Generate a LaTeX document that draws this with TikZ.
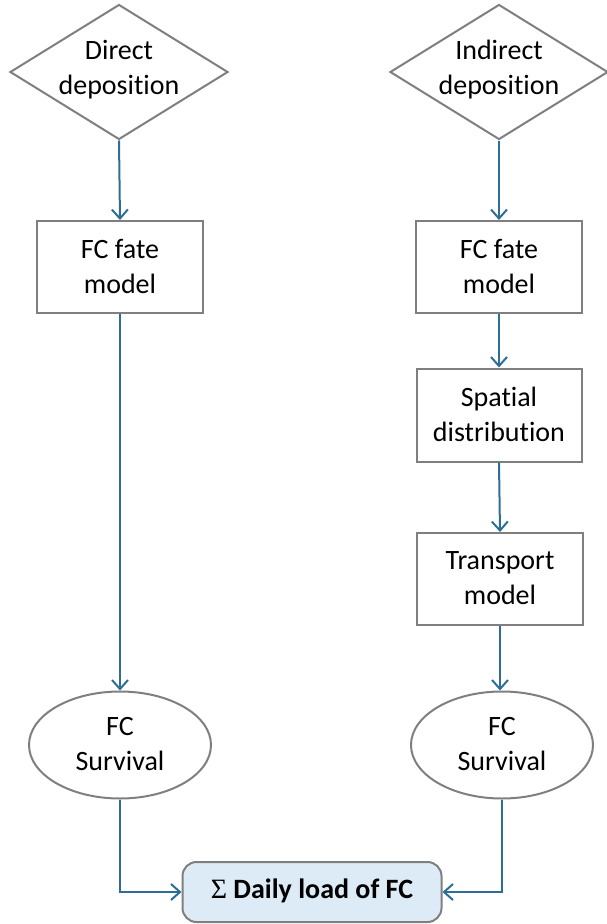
\documentclass[tikz,border=0pt]{standalone}
\usepackage{fontspec}
\setmainfont{Carlito}[Ligatures=NoCommon]
\newfontfamily\sigmafont{Liberation Serif}
\usetikzlibrary{shapes.geometric,arrows.meta}
\definecolor{bordergray}{HTML}{7F7F7F}
\definecolor{arrowblue}{HTML}{2E6E94}
\definecolor{loadfill}{HTML}{DDEBF7}
\tikzset{
  base/.style={draw=bordergray, line width=2pt, inner sep=0pt},
  decision/.style={base, diamond, minimum width=218pt, minimum height=135pt},
  procbox/.style={base, rectangle, minimum width=166pt, minimum height=92pt},
  survival/.style={base, ellipse, minimum width=182pt, minimum height=107pt},
  loadbox/.style={base, rectangle, rounded corners=14pt, fill=loadfill, minimum width=259pt, minimum height=60pt},
  txt/.style={align=center, font=\fontsize{28}{35}\selectfont, text=black},
  flow/.style={draw=arrowblue, line width=2pt, -{Straight Barb[length=9pt,width=16pt,line width=2pt]}}
}
\begin{document}
\begin{tikzpicture}[x=1pt,y=-1pt]
\useasboundingbox (0,0) rectangle (607,924);
% left column
\node[decision] (d1) at (119,72) {};
\node[txt] (d1t) at (119,70) {Direct\\deposition};
\node[procbox] (f1) at (120,267) {};
\node[txt] (f1t) at (120,266) {FC fate\\model};
\node[survival] (s1) at (120,745) {};
\node[txt] (s1t) at (120,744) {FC\\Survival};
% right column
\node[decision] (d2) at (499,72) {};
\node[txt] (d2t) at (499,70) {Indirect\\deposition};
\node[procbox] (f2) at (499,267) {};
\node[txt] (f2t) at (499,266) {FC fate\\model};
\node[procbox, minimum width=165pt, minimum height=93pt] (sp) at (499,415) {};
\node[txt] (spt) at (499,414) {Spatial\\distribution};
\node[procbox] (tr) at (500,579) {};
\node[txt] (trt) at (500,578) {Transport\\model};
\node[survival] (s2) at (502,745) {};
\node[txt] (s2t) at (502,744) {FC\\Survival};
% bottom
\node[loadbox] (ld) at (312,892) {};
\node[txt, font=\fontsize{28}{35}\selectfont\bfseries] (ldt) at (312,891) {{\sigmafont\mdseries Σ} Daily load of FC};
% connectors
\draw[flow] (d1.south) -- (f1.north);
\draw[flow] (f1.south) -- (s1.north);
\draw[flow] (d2.south) -- (f2.north);
\draw[flow] (f2.south) -- (sp.north);
\draw[flow] (sp.south) -- (tr.north);
\draw[flow] (tr.south) -- (tr.south |- s2.north);
\draw[flow] (s1.south) |- (ld.west);
\draw[flow] (s2.south) |- (ld.east);
\end{tikzpicture}
\end{document}
